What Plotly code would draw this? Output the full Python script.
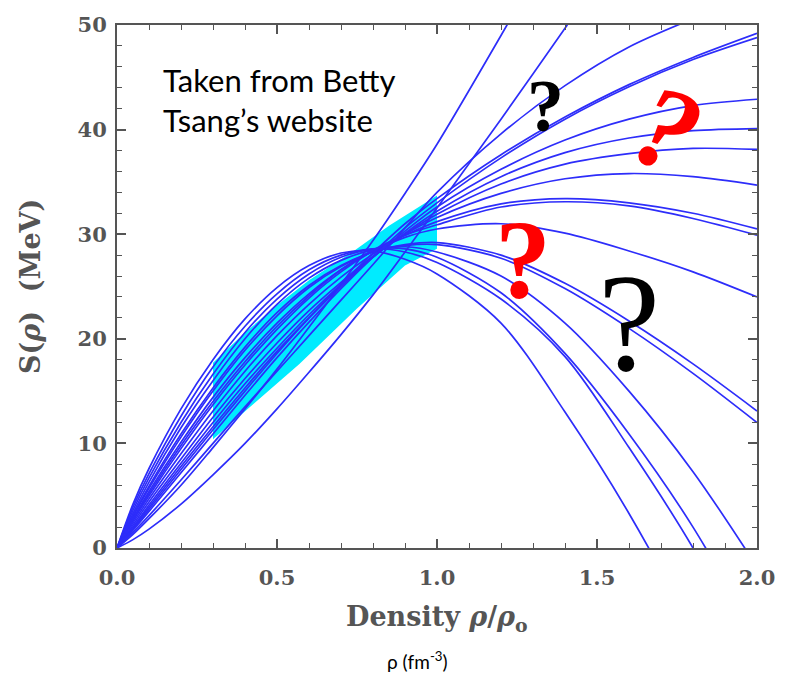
import plotly.graph_objects as go

# density grid (rho/rho0) at which curve values were read
rho = [0, 0.05, 0.1, 0.2, 0.3, 0.4, 0.5, 0.6, 0.7, 0.8, 0.9, 1.0, 1.2, 1.4, 1.6, 1.8, 2.0]

# symmetry-energy curves S(rho) in MeV
soft1 = [0, 4.2, 7.6, 13.3, 18.0, 21.9, 24.9, 27.0, 28.2, 28.4, 27.6, 26.2, 21.5, 13.0, 3.3, -8.0, -21.0]
soft2 = [0, 3.9, 7.1, 12.6, 17.3, 21.2, 24.3, 26.6, 28.0, 28.6, 28.3, 27.3, 23.8, 18.3, 9.6, 0.0, -11.5]
soft3 = [0, 3.6, 6.7, 12.0, 16.6, 20.6, 23.8, 26.2, 27.8, 28.6, 28.6, 27.8, 24.4, 18.6, 10.9, 2.0, -8.7]
soft4 = [0, 3.3, 6.3, 11.5, 16.0, 20.0, 23.3, 25.8, 27.5, 28.5, 28.8, 28.3, 26.0, 21.5, 15.0, 7.3, -1.8]
mid1 = [0, 3.0, 5.7, 10.6, 15.0, 18.9, 22.2, 24.9, 26.9, 28.3, 29.0, 29.2, 28.0, 25.3, 21.7, 17.6, 13.1]
mid2 = [0, 3.1, 5.9, 10.9, 15.3, 19.2, 22.5, 25.1, 27.0, 28.3, 28.9, 29.0, 27.7, 24.8, 21.0, 16.7, 12.0]
mid3 = [0, 2.8, 5.4, 10.1, 14.4, 18.2, 21.5, 24.3, 26.6, 28.4, 29.7, 30.5, 31.0, 30.1, 28.4, 26.4, 24.0]
flat1 = [0, 2.6, 5.0, 9.5, 13.7, 17.5, 20.9, 23.9, 26.4, 28.4, 29.9, 31.2, 32.9, 33.4, 33.0, 32.0, 30.5]
flat2 = [0, 2.7, 5.2, 9.8, 14.0, 17.8, 21.2, 24.1, 26.6, 28.5, 29.9, 30.9, 32.6, 33.1, 32.7, 31.5, 29.9]
flat3 = [0, 2.4, 4.7, 9.0, 13.1, 16.9, 20.3, 23.3, 25.9, 28.1, 30.0, 31.6, 33.9, 35.3, 35.8, 35.5, 34.7]
flat4 = [0, 2.2, 4.4, 8.5, 12.5, 16.2, 19.6, 22.7, 25.4, 27.9, 30.0, 31.9, 34.8, 36.7, 37.7, 38.2, 38.1]
rise1 = [0, 2.0, 4.1, 8.1, 12.0, 15.7, 19.1, 22.3, 25.2, 27.8, 30.1, 32.2, 35.5, 37.8, 39.2, 39.9, 40.1]
rise2 = [0, 1.9, 3.9, 7.8, 11.6, 15.3, 18.8, 22.0, 25.0, 27.8, 30.3, 32.6, 36.2, 39.0, 41.0, 42.3, 42.9]
lin1 = [0, 1.8, 3.7, 7.5, 11.3, 15.0, 18.6, 22.0, 25.2, 28.2, 31.0, 33.4, 37.6, 41.2, 44.3, 46.9, 49.2]
lin2 = [0, 1.7, 3.5, 7.2, 10.9, 14.6, 18.2, 21.6, 24.8, 27.8, 30.6, 33.0, 37.3, 41.0, 44.1, 46.7, 48.8]
stiff1 = [0, 1.5, 3.1, 6.5, 10.0, 13.5, 16.9, 20.3, 23.7, 27.1, 30.6, 34.0, 39.6, 44.2, 47.9, 50.6, 53.0]
stiff2 = [0, 1.3, 2.8, 6.0, 9.6, 13.3, 17.1, 21.1, 25.2, 29.4, 33.9, 38.6, 49.0, 59.7, 70.8, 82.0, 93.5]
stiff3 = [0, 0.8, 1.8, 4.2, 7.0, 10.0, 13.3, 16.8, 20.4, 24.2, 28.3, 32.5, 41.0, 49.7, 58.6, 68.0, 78.0]

curves = [soft1, soft2, soft3, soft4, mid1, mid2, mid3, flat1, flat2, flat3, flat4,
          rise1, rise2, lin1, lin2, stiff1, stiff2, stiff3]

# experimental constraint band (cyan)
band_top_x = [0.3, 0.4, 0.5, 0.6, 0.74, 0.85, 1.0]
band_top_y = [17.7, 20.6, 23.2, 25.6, 28.4, 30.8, 33.7]
band_bot_x = [1.0, 0.9, 0.75, 0.57, 0.3]
band_bot_y = [28.6, 27.0, 22.9, 17.6, 10.4]

AX = "#555555"
SERIF = "DejaVu Serif"

fig = go.Figure()
fig.add_trace(go.Scatter(
    x=band_top_x + band_bot_x, y=band_top_y + band_bot_y,
    fill="toself", fillcolor="rgb(0,235,255)", mode="lines",
    line=dict(width=0), hoverinfo="skip", showlegend=False))

for c in curves:
    fig.add_trace(go.Scatter(
        x=rho, y=c, mode="lines",
        line=dict(color="rgb(45,45,250)", width=1.7, shape="spline", smoothing=0.9),
        showlegend=False))

axis_common = dict(
    showline=True, linecolor=AX, linewidth=2, mirror="ticks",
    ticks="inside", ticklen=9, tickwidth=1.5, tickcolor=AX,
    showgrid=False, zeroline=False,
    tickfont=dict(family=SERIF, size=21, color=AX, weight="bold"),
)
fig.update_xaxes(range=[0, 2], dtick=0.5, tickformat=".1f",
                 minor=dict(dtick=0.1, ticks="inside", ticklen=5, tickcolor=AX, tickwidth=1.2),
                 ticklabelstandoff=10, **axis_common)
fig.update_yaxes(range=[0, 50], dtick=10,
                 minor=dict(dtick=2, ticks="inside", ticklen=5, tickcolor=AX, tickwidth=1.2),
                 ticklabelstandoff=4, **axis_common)

ann = []
ann.append(dict(text="Density <i>ρ</i>/<i>ρ</i><sub>o</sub>", xref="paper", yref="paper",
                x=0.5, y=-0.135, xanchor="center", yanchor="middle", showarrow=False,
                font=dict(family=SERIF, size=27, color=AX, weight="bold")))
ann.append(dict(text="S(<i>ρ</i>)  (MeV)", xref="paper", yref="paper",
                x=-0.135, y=0.5, xanchor="center", yanchor="middle", showarrow=False,
                textangle=-90,
                font=dict(family=SERIF, size=27, color=AX, weight="bold")))
ann.append(dict(text="ρ (fm<sup>-3</sup>)", xref="paper", yref="paper",
                x=0.47, y=-0.215, xanchor="center", yanchor="middle", showarrow=False,
                font=dict(family="Lato", size=19, color="black")))
ann.append(dict(text="Taken from Betty<br>Tsang’s website", xref="paper", yref="paper",
                x=(161 - 117) / 640, y=(548 - 56) / 526, xanchor="left", yanchor="top",
                align="left", showarrow=False,
                font=dict(family="Lato", size=31, color="black")))
# question marks
ann.append(dict(text="<b>?</b>", x=1.34, y=42.3, xref="x", yref="y", showarrow=False,
                font=dict(family="Liberation Serif", size=74, color="black")))
ann.append(dict(text="<b><i>?</i></b>", x=1.72, y=40.0, xref="x", yref="y", showarrow=False,
                textangle=20, font=dict(family="Liberation Serif", size=118, color="red")))
ann.append(dict(text="<b>?</b>", x=1.27, y=27.6, xref="x", yref="y", showarrow=False,
                font=dict(family="Liberation Serif", size=112, color="red")))
ann.append(dict(text="?", x=1.60, y=21.6, xref="x", yref="y", showarrow=False,
                font=dict(family="Liberation Serif", size=140, color="black")))

fig.update_layout(
    width=789, height=675,
    margin=dict(l=117, r=32, t=22, b=127),
    plot_bgcolor="white", paper_bgcolor="white",
    annotations=ann, showlegend=False,
)

fig.write_html("out.html")
